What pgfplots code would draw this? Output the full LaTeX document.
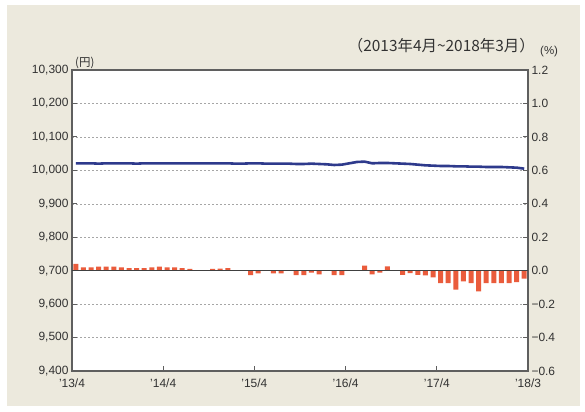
\documentclass[border=0pt]{standalone}
\usepackage{pgfplots}
\usepackage{pgfplotstable}
\pgfplotsset{compat=1.18}
\usepackage{fontspec}
\setmainfont{Liberation Sans}
\newfontfamily\cjk{Noto Sans CJK JP}
\definecolor{bgbeige}{RGB}{236,233,221}
\definecolor{barred}{RGB}{234,92,60}
\definecolor{linenavy}{RGB}{46,58,140}
\definecolor{framegray}{RGB}{95,95,95}
\definecolor{txtgray}{RGB}{50,50,50}

\pgfplotstableread{
i val
0 0.04
1 0.02
2 0.02
3 0.024
4 0.024
5 0.024
6 0.02
7 0.015
8 0.015
9 0.015
10 0.02
11 0.024
12 0.02
13 0.02
14 0.015
15 0.01
16 0
17 0
18 0.01
19 0.012
20 0.015
21 0
22 0
23 -0.026
24 -0.016
25 0
26 -0.016
27 -0.016
28 0
29 -0.026
30 -0.026
31 -0.012
32 -0.022
33 0
34 -0.026
35 -0.026
36 0
37 0
38 0.03
39 -0.022
40 -0.012
41 0.025
42 0
43 -0.025
44 -0.015
45 -0.025
46 -0.028
47 -0.04
48 -0.074
49 -0.074
50 -0.114
51 -0.064
52 -0.074
53 -0.124
54 -0.074
55 -0.074
56 -0.074
57 -0.074
58 -0.068
59 -0.048
}\bars

\pgfplotstableread{
i val
0 10021
1 10021
2 10021
3 10020
4 10021
5 10021
6 10021
7 10021
8 10020
9 10021
10 10021
11 10021
12 10021
13 10021
14 10021
15 10021
16 10021
17 10021
18 10021
19 10021
20 10021
21 10020
22 10020
23 10021
24 10021
25 10020
26 10020
27 10020
28 10020
29 10019
30 10019
31 10020
32 10019
33 10018
34 10016
35 10017
36 10021
37 10025
38 10026
39 10021
40 10022
41 10022
42 10021
43 10020
44 10019
45 10017
46 10015
47 10014
48 10013
49 10013
50 10012
51 10012
52 10011
53 10011
54 10010
55 10010
56 10010
57 10009
58 10008
59 10005
}\price

\begin{document}
\begin{tikzpicture}[x=1bp,y=1bp]
\useasboundingbox (0,0) rectangle (585,411);
\fill[bgbeige] (7,5) rectangle (580,406);
\begin{axis}[
  at={(72bp,40bp)}, anchor=south west, scale only axis,
  width=456bp, height=301bp,
  xmin=0, xmax=60, ymin=-0.6, ymax=1.2,
  axis background/.style={fill=white},
  axis line style={framegray, line width=1.1bp},
  xtick={0,12,24,36,48,60},
  xticklabels={’13/4,’14/4,’15/4,’16/4,’17/4,’18/3},
  xtick pos=bottom,
  ytick={-0.6,-0.4,-0.2,0,0.2,0.4,0.6,0.8,1.0,1.2},
  yticklabels={−0.6,−0.4,−0.2,0.0,0.2,0.4,0.6,0.8,1.0,1.2},
  ytick pos=both, yticklabel pos=right,
  tick align=inside,
  major tick length=5bp,
  tick style={framegray, line width=0.8bp},
  ymajorgrids,
  major grid style={gray!70, line width=0.5bp, dash pattern=on 2bp off 2bp},
  ticklabel style={font=\fontsize{12}{13}\selectfont, text=txtgray},
  xticklabel style={yshift=-4bp},
  clip=true,
]
\addplot[ybar, bar width=5bp, fill=barred, draw=none] table[x expr=\thisrow{i}+0.5, y=val] {\bars};
\addplot[black!75, line width=1bp] coordinates {(0,0) (60,0)};
\end{axis}
\begin{axis}[
  at={(72bp,40bp)}, anchor=south west, scale only axis,
  width=456bp, height=301bp,
  xmin=0, xmax=60, ymin=9400, ymax=10300,
  axis line style={draw=none},
  xtick=\empty,
  scaled y ticks=false,
  ytick={9400,9500,...,10300},
  yticklabels={{9,400},{9,500},{9,600},{9,700},{9,800},{9,900},{10,000},{10,100},{10,200},{10,300}},
  ytick pos=left,
  major tick length=0pt,
  ticklabel style={font=\fontsize{12}{13}\selectfont, text=txtgray},
]
\addplot[linenavy, line width=2.6bp] table[x expr=\thisrow{i}+0.5, y=val] {\price};
\end{axis}
\node[anchor=base west, text=txtgray, inner sep=0pt] at (75,345) {\cjk\fontsize{11.5}{12}\selectfont (円)};
\node[anchor=base east, text=txtgray, inner sep=0pt] at (535,360) {\cjk\fontsize{15.5}{16}\selectfont （2013年4月\textasciitilde 2018年3月）};
\node[anchor=base west, text=txtgray, inner sep=0pt] at (540,357) {\fontsize{11.5}{12}\selectfont (\%)};
\end{tikzpicture}
\end{document}
